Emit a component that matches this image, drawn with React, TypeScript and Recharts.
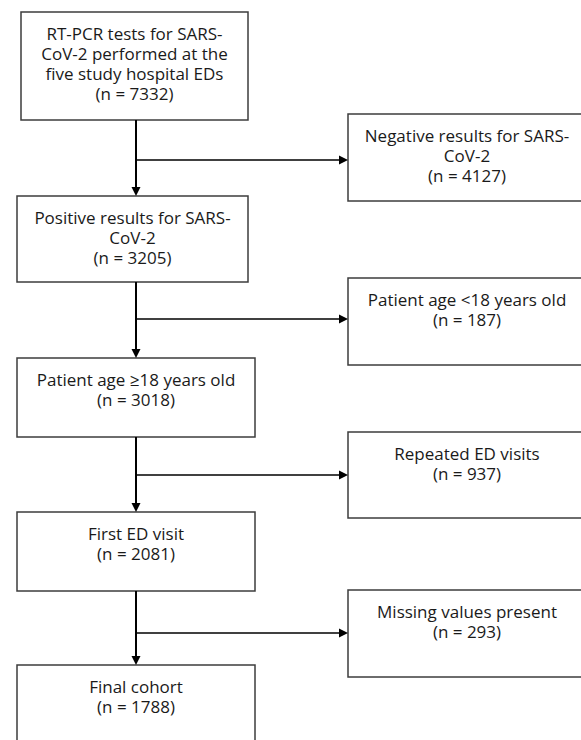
import { ComposedChart, XAxis, YAxis, ReferenceArea, ReferenceLine } from 'recharts';

// flow steps (main column) and exclusions (right column)
const mainLabels = [
  ['RT-PCR tests for SARS-', 'CoV-2 performed at the', 'five study hospital EDs'],
  ['Positive results for SARS-', 'CoV-2'],
  ['Patient age ≥18 years old'],
  ['First ED visit'],
  ['Final cohort'],
];
const mainCounts = [7332, 3205, 3018, 2081, 1788];

const excludedLabels = [
  ['Negative results for SARS-', 'CoV-2'],
  ['Patient age <18 years old'],
  ['Repeated ED visits'],
  ['Missing values present'],
];
const excludedCounts = [4127, 187, 937, 293];

// layout, in px of the 581 x 740 frame
const W = 581;
const H = 740;
const mainBoxes = [
  { x1: 21, x2: 248, y1: 12, y2: 120 },
  { x1: 17, x2: 248, y1: 196, y2: 282 },
  { x1: 17, x2: 255, y1: 358, y2: 437 },
  { x1: 17, x2: 255, y1: 512, y2: 591 },
  { x1: 17, x2: 255, y1: 665, y2: 770 },
];
const sideBoxes = [
  { y1: 114, y2: 201 },
  { y1: 278, y2: 365 },
  { y1: 432, y2: 518 },
  { y1: 590, y2: 677 },
];
const SIDE_X1 = 348;
const SIDE_X2 = 620;
const TRUNK_X = 136;
const branchY = [160, 319, 475, 633];

const FONT = '"Open Sans", sans-serif';
const LINE_H = 20;

const boxShape = (lines: string[], n: number, textX?: number) => (props: any) => {
  const { x, y, width, height } = props;
  const cx = textX ?? x + width / 2;
  const all = [...lines, `(n = ${n})`];
  return (
    <g>
      <rect x={x} y={y} width={width} height={height} fill="#fff" stroke="#3c3c3c" strokeWidth={1.5} />
      <text fontFamily={FONT} fontSize={17} fill="#1a1a1a" textAnchor="middle">
        {all.map((t, i) => (
          <tspan key={i} x={cx} y={y + 22 + i * LINE_H} dy="0.35em">
            {t}
          </tspan>
        ))}
      </text>
    </g>
  );
};

const arrowShape = (width: number) => (props: any) => {
  const { x1, y1, x2, y2 } = props;
  const len = Math.hypot(x2 - x1, y2 - y1) || 1;
  const ux = (x2 - x1) / len;
  const uy = (y2 - y1) / len;
  const head = 9;
  const half = 4.5;
  const bx = x2 - ux * head;
  const by = y2 - uy * head;
  return (
    <g>
      <line x1={x1} y1={y1} x2={bx} y2={by} stroke="#000" strokeWidth={width} />
      <polygon
        points={`${x2},${y2} ${bx - uy * half},${by + ux * half} ${bx + uy * half},${by - ux * half}`}
        fill="#000"
      />
    </g>
  );
};

export default function App() {
  return (
    <div style={{ position: 'absolute', left: 0, top: 0, width: W, height: H, background: '#fff', overflow: 'hidden' }}>
      <ComposedChart width={W} height={H} margin={{ top: 0, right: 0, bottom: 0, left: 0 }}>
        <XAxis type="number" dataKey="x" domain={[0, W]} hide allowDataOverflow />
        <YAxis type="number" dataKey="y" domain={[0, H]} reversed hide allowDataOverflow />

        {/* trunk arrows between the main boxes */}
        {mainBoxes.slice(1).map((b, i) => (
          <ReferenceLine
            key={`trunk-${i}`}
            segment={[
              { x: TRUNK_X, y: mainBoxes[i].y2 },
              { x: TRUNK_X, y: b.y1 },
            ]}
            ifOverflow="visible"
            shape={arrowShape(2)}
          />
        ))}

        {/* exclusion branches */}
        {branchY.map((y, i) => (
          <ReferenceLine
            key={`branch-${i}`}
            segment={[
              { x: TRUNK_X, y },
              { x: SIDE_X1, y },
            ]}
            ifOverflow="visible"
            shape={arrowShape(1.5)}
          />
        ))}

        {mainBoxes.map((b, i) => (
          <ReferenceArea
            key={`main-${i}`}
            x1={b.x1}
            x2={b.x2}
            y1={b.y1}
            y2={b.y2}
            ifOverflow="visible"
            shape={boxShape(mainLabels[i], mainCounts[i])}
          />
        ))}

        {sideBoxes.map((b, i) => (
          <ReferenceArea
            key={`side-${i}`}
            x1={SIDE_X1}
            x2={SIDE_X2}
            y1={b.y1}
            y2={b.y2}
            ifOverflow="visible"
            shape={boxShape(excludedLabels[i], excludedCounts[i], 467)}
          />
        ))}
      </ComposedChart>
    </div>
  );
}
